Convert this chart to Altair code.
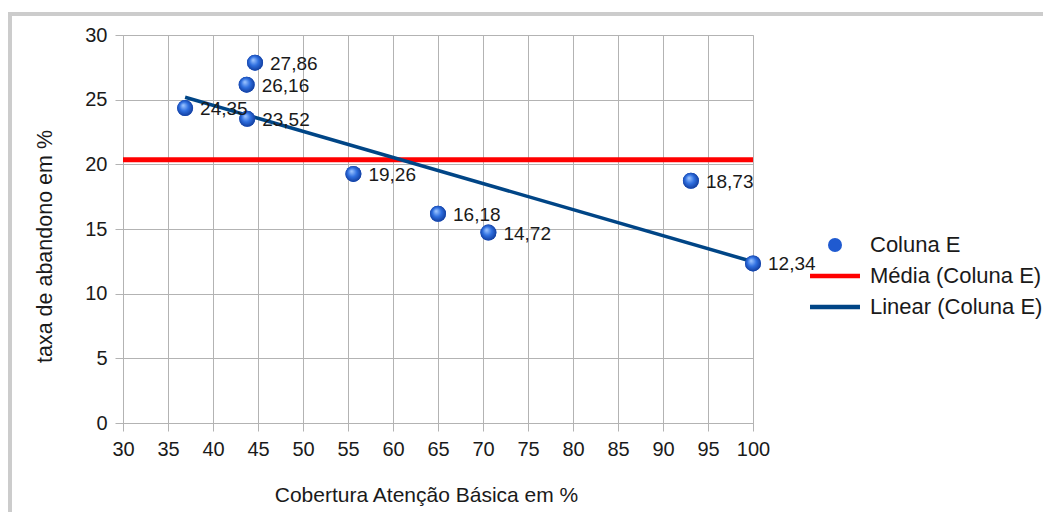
import altair as alt
import pandas as pd

# Data
cobertura = [44.67, 43.74, 36.9, 43.8, 55.6, 65.0, 70.6, 93.1, 100.0]
taxa = [27.86, 26.16, 24.35, 23.52, 19.26, 16.18, 14.72, 18.73, 12.34]
trend_x = [36.9, 100.0]
trend_y = [25.19, 12.47]
series_names = ["Coluna E", "Média (Coluna E)", "Linear (Coluna E)"]
series_colors = ["#1f5ad0", "#ff0000", "#004586"]
x_ticks = list(range(30, 101, 5))
y_ticks = list(range(0, 31, 5))

FONT = "Liberation Sans"

df = pd.DataFrame({"x": cobertura, "y": taxa, "serie": series_names[0]})
trend = pd.DataFrame({"x": trend_x, "y": trend_y})

line_path = "M-3.57,-0.33H3.57V0.33H-3.57Z"

xscale = alt.Scale(domain=[30, 100], nice=False, zero=False)
yscale = alt.Scale(domain=[0, 30], nice=False)

xaxis = alt.Axis(values=x_ticks, title="Cobertura Atenção Básica em %", labelFontSize=20,
                 titleFontSize=21, titleFontWeight="normal", labelPadding=8, tickSize=8,
                 titlePadding=25, titleX=303, labelFont=FONT, titleFont=FONT,
                 labelColor="#1a1a1a", titleColor="#1a1a1a", gridColor="#b3b3b3",
                 domainColor="#b3b3b3", tickColor="#b3b3b3", labelFlush=False)
yaxis = alt.Axis(values=y_ticks, title="taxa de abandono em %", labelFontSize=20,
                 titleFontSize=21.5, titleFontWeight="normal", labelPadding=8, tickSize=8,
                 titlePadding=28, titleY=211, labelFont=FONT, titleFont=FONT,
                 labelColor="#1a1a1a", titleColor="#1a1a1a", gridColor="#b3b3b3",
                 domainColor="#b3b3b3", tickColor="#b3b3b3")

base = alt.Chart(df)

points = base.mark_point(filled=True, size=256, opacity=1).encode(
    x=alt.X("x:Q", scale=xscale, axis=xaxis),
    y=alt.Y("y:Q", scale=yscale, axis=yaxis),
    color=alt.Color("serie:N", scale=alt.Scale(domain=series_names, range=series_colors),
                    legend=alt.Legend(title=None, orient="none", legendX=701, legendY=199,
                                      labelFontSize=22, labelFont=FONT, labelColor="#1a1a1a",
                                      symbolSize=196, labelOffset=24, rowPadding=9,
                                      padding=0, labelLimit=400)),
    shape=alt.Shape("serie:N", scale=alt.Scale(domain=series_names,
                                               range=["circle", line_path, line_path]),
                    legend=None),
)

grad = alt.RadialGradient(
    gradient="radial",
    stops=[alt.GradientStop(offset=0, color="#9cc4ff"),
           alt.GradientStop(offset=0.45, color="#2f6fe0"),
           alt.GradientStop(offset=1, color="#0a2f8a")],
    x1=0.38, y1=0.33, r1=0.02, x2=0.5, y2=0.5, r2=0.6,
)
spheres = base.mark_point(filled=True, size=256, opacity=1, fill=grad, shape="circle").encode(
    x="x:Q", y="y:Q"
)

mean_rule = base.mark_rule(color="#ff0000", strokeWidth=5).encode(y="mean(y):Q")

trend_line = alt.Chart(trend).mark_line(color="#004586", strokeWidth=3.5).encode(
    x="x:Q", y="y:Q"
)

labels = base.transform_calculate(
    lbl="replace(format(datum.y, '.2f'), '.', ',')"
).mark_text(align="left", baseline="middle", dx=15, dy=1, fontSize=19, font=FONT,
            color="#1a1a1a").encode(x="x:Q", y="y:Q", text="lbl:N")

frame = alt.Chart(pd.DataFrame({"a": [0]})).mark_rect(
    fill=None, stroke="#cccccc", strokeWidth=4
).encode(x=alt.value(-113), x2=alt.value(1000), y=alt.value(-21), y2=alt.value(700))

chart = alt.layer(frame, mean_rule, trend_line, points, spheres, labels).properties(
    width=630, height=388,
    padding={"left": 115, "top": 27, "right": 290, "bottom": 89},
    autosize=alt.AutoSizeParams(type="none"),
).configure_view(stroke=None).configure(background="white")

chart.save("out.html", embed_options={"renderer": "svg", "actions": False})
